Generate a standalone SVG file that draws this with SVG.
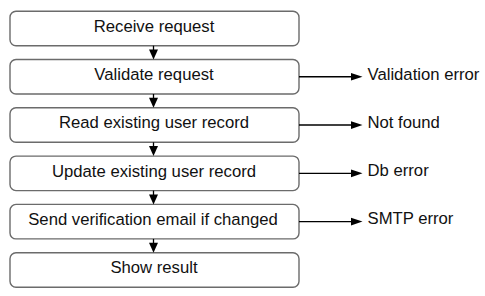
<svg xmlns="http://www.w3.org/2000/svg" width="485" height="296" viewBox="0 0 485 296">
  <style>
    .box { fill: #ffffff; stroke: #6b6b6b; stroke-width: 1.4; }
    .lbl { font-family: "Liberation Sans", Arial, sans-serif; font-size: 16.7px; fill: #111111; }
    .mid { text-anchor: middle; }
    .link { stroke: #000000; stroke-width: 1.3; fill: none; }
    .head { fill: #000000; stroke: none; }
  </style>
  <rect width="485" height="296" fill="#ffffff"/>

  <!-- process steps -->
  <g id="receive">
    <rect class="box" x="10" y="11.2" width="289" height="34.5" rx="6"/>
    <text class="lbl mid" x="154" y="31.8">Receive request</text>
  </g>
  <g id="validate">
    <rect class="box" x="10" y="59.5" width="289" height="34.5" rx="6"/>
    <text class="lbl mid" x="154" y="80.1">Validate request</text>
  </g>
  <g id="read">
    <rect class="box" x="10" y="107.8" width="289" height="34.5" rx="6"/>
    <text class="lbl mid" x="154" y="128.4">Read existing user record</text>
  </g>
  <g id="update">
    <rect class="box" x="10" y="156.1" width="289" height="34.5" rx="6"/>
    <text class="lbl mid" x="154" y="176.7">Update existing user record</text>
  </g>
  <g id="send">
    <rect class="box" x="10" y="204.4" width="289" height="34.5" rx="6"/>
    <text class="lbl mid" x="153" y="225">Send verification email if changed</text>
  </g>
  <g id="result">
    <rect class="box" x="10" y="252.7" width="289" height="34.5" rx="6"/>
    <text class="lbl mid" x="154" y="273.3">Show result</text>
  </g>

  <!-- error outcomes -->
  <g id="validation-error">
    <text class="lbl" x="367.5" y="79.5">Validation error</text>
  </g>
  <g id="not-found">
    <text class="lbl" x="367.5" y="127.8">Not found</text>
  </g>
  <g id="db-error">
    <text class="lbl" x="367.5" y="176.1">Db error</text>
  </g>
  <g id="smtp-error">
    <text class="lbl" x="367.5" y="224.4">SMTP error</text>
  </g>

  <!-- connectors -->
  <g id="connectors">
    <!-- main flow -->
    <line class="link" x1="153.5" y1="45.7" x2="153.5" y2="52"/>
    <polygon class="head" points="149,49.5 158,49.5 153.5,59.5"/>
    <line class="link" x1="153.5" y1="94" x2="153.5" y2="100"/>
    <polygon class="head" points="149,97.8 158,97.8 153.5,107.8"/>
    <line class="link" x1="153.5" y1="142.3" x2="153.5" y2="148"/>
    <polygon class="head" points="149,146.1 158,146.1 153.5,156.1"/>
    <line class="link" x1="153.5" y1="190.6" x2="153.5" y2="197"/>
    <polygon class="head" points="149,194.4 158,194.4 153.5,204.4"/>
    <line class="link" x1="153.5" y1="238.9" x2="153.5" y2="245"/>
    <polygon class="head" points="149,242.7 158,242.7 153.5,252.7"/>

    <!-- failure branches -->
    <line class="link" x1="299" y1="76.75" x2="353" y2="76.75"/>
    <polygon class="head" points="351,72.9 351,80.6 362.5,76.75"/>
    <line class="link" x1="299" y1="125" x2="353" y2="125"/>
    <polygon class="head" points="351,121.2 351,128.9 362.5,125"/>
    <line class="link" x1="299" y1="173.3" x2="353" y2="173.3"/>
    <polygon class="head" points="351,169.5 351,177.2 362.5,173.3"/>
    <line class="link" x1="299" y1="221.6" x2="353" y2="221.6"/>
    <polygon class="head" points="351,217.8 351,225.5 362.5,221.6"/>
  </g>
</svg>
